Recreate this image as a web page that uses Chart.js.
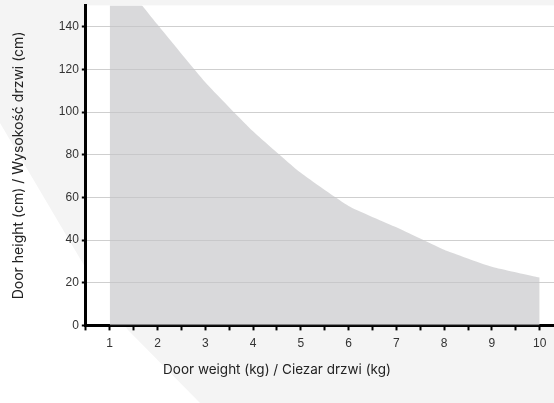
<!DOCTYPE html>
<html lang="pl">
<head>
<meta charset="UTF-8">
<title>Door weight vs height</title>
<script src="https://cdn.jsdelivr.net/npm/chart.js"></script>
<style>
  html, body { margin: 0; padding: 0; }
  body { width: 554px; height: 403px; background: #f4f4f4; position: relative; overflow: hidden; }
  .band { position: absolute; left: 0; top: 0; width: 554px; height: 403px; background: #fff;
          clip-path: polygon(0 123px, 85px 267px, 128px 330px, 200px 403px, 0 403px); }
  .wrap { position: absolute; left: 0; top: 0; width: 554px; height: 403px; }
</style>
</head>
<body>
<div class="band"></div>
<div class="wrap"><canvas id="grafico" width="554" height="403"></canvas></div>
<script>
  // peso da porta (kg) e altura maxima (cm)
  const pesos = [1, 2, 3, 4, 5, 6, 7, 8, 9, 10];
  const alturas = [169, 141, 114, 91, 71.5, 56, 46, 35.5, 27.5, 22.4];
  const yTicks = [0, 20, 40, 60, 80, 100, 120, 140];
  const xTicks = [1, 2, 3, 4, 5, 6, 7, 8, 9, 10];

  const tituloY = 'Door height (cm) / Wysokość drzwi (cm)';
  const tituloX = 'Door weight (kg) / Ciezar drzwi (kg)';

  // fundo branco so na area do grafico
  const fundoArea = {
    id: 'fundoArea',
    beforeDraw(chart) {
      const { ctx, chartArea: a } = chart;
      ctx.save();
      ctx.fillStyle = '#ffffff';
      ctx.fillRect(a.left, a.top, a.right - a.left, a.bottom - a.top);
      ctx.restore();
    }
  };

  const ctx = document.getElementById('grafico').getContext('2d');
  const grafico = new Chart(ctx, {
    type: 'line',
    data: {
      datasets: [{
        data: pesos.map((p, i) => ({ x: p, y: alturas[i] })),
        fill: 'origin',
        backgroundColor: 'rgba(196, 196, 200, 0.65)',
        borderWidth: 0,
        pointRadius: 0,
        tension: 0.15
      }]
    },
    options: {
      responsive: false,
      animation: false,
      layout: { padding: { top: 1, left: 0, right: 0, bottom: 0 } },
      scales: {
        x: {
          type: 'linear',
          min: 0.5,
          max: 10.3,
          afterBuildTicks(scale) {
            const t = [];
            for (let v = 0.5; v <= 10; v += 0.5) t.push({ value: v });
            scale.ticks = t;
          },
          ticks: {
            callback: v => xTicks.includes(v) ? String(v) : '',
            color: '#333',
            font: { family: 'Liberation Sans', size: 12 },
            padding: 6,
            maxRotation: 0,
            autoSkip: false
          },
          grid: { drawOnChartArea: false, tickColor: '#000', tickWidth: 2, tickLength: 5 },
          border: { color: '#000', width: 3 }
        },
        y: {
          min: 0,
          max: 150,
          afterBuildTicks(scale) {
            scale.ticks = yTicks.map(v => ({ value: v }));
          },
          ticks: {
            color: '#333',
            font: { family: 'Liberation Sans', size: 12, lineHeight: 0.4 },
            padding: 3
          },
          grid: { color: '#cfcfcf', lineWidth: 1, tickColor: '#000', tickWidth: 2, tickLength: 4 },
          border: { color: '#000', width: 3 },
          title: {
            display: true,
            text: tituloY,
            color: '#222',
            font: { family: 'Inter', size: 14 },
            padding: { top: 10, bottom: 29 }
          }
        }
      },
      plugins: {
        legend: { display: false },
        tooltip: { enabled: false },
        title: {
          display: true,
          position: 'bottom',
          text: tituloX,
          color: '#222',
          font: { family: 'Inter', size: 13.5, weight: 'normal' },
          padding: { top: 5, bottom: 25 }
        }
      }
    },
    plugins: [fundoArea]
  });
</script>
</body>
</html>
